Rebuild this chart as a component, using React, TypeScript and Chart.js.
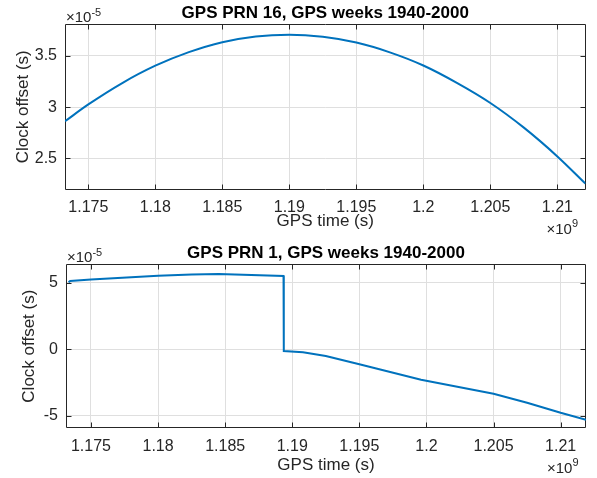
import React, { useEffect, useRef } from "react";
import { Chart, registerables } from "chart.js";

Chart.register(...registerables);

const FONT = '"Liberation Sans", Arial, Helvetica, sans-serif';
const TEXT = "#262626";

const topTitle = "GPS PRN 16, GPS weeks 1940-2000";
const bottomTitle = "GPS PRN 1, GPS weeks 1940-2000";
const xLabel = "GPS time (s)";
const yLabel = "Clock offset (s)";

const xTicks = [1175000000, 1180000000, 1185000000, 1190000000, 1195000000, 1200000000, 1205000000, 1210000000];
const topYTicks = [2.5e-5, 3e-5, 3.5e-5];
const bottomYTicks = [-5e-5, 0, 5e-5];

// PRN 16 (top)
const prn16Time = [
  1173260000, 1175000000, 1177500000, 1180000000, 1182500000, 1185000000, 1187500000,
  1190000000, 1192500000, 1195000000, 1197500000, 1200000000, 1202500000, 1205000000,
  1207500000, 1210000000, 1212100000,
];
const prn16Offset = [
  2.862e-5, 3.026e-5, 3.232e-5, 3.403e-5, 3.535e-5, 3.632e-5, 3.688e-5,
  3.705e-5, 3.684e-5, 3.628e-5, 3.533e-5, 3.405e-5, 3.236e-5, 3.04e-5,
  2.8e-5, 2.52e-5, 2.255e-5,
];

// PRN 1 (bottom)
const prn1Time = [
  1173330000, 1173450000, 1175000000, 1180000000, 1182500000, 1184500000, 1189350000,
  1189370000, 1190800000, 1192500000, 1195000000, 1199600000, 1205000000, 1207500000,
  1210000000, 1211890000,
];
const prn1Offset = [
  5.05e-5, 5.15e-5, 5.27e-5, 5.55e-5, 5.64e-5, 5.68e-5, 5.53e-5,
  -0.13e-5, -0.22e-5, -0.5e-5, -1.13e-5, -2.29e-5, -3.35e-5, -4.02e-5,
  -4.78e-5, -5.3e-5,
];

const matlabAxes = {
  id: "matlabAxes",
  beforeDatasetsDraw(chart: any) {
    const { ctx, chartArea, scales } = chart;
    const { left, top, right, bottom } = chartArea;
    const L = Math.round(left) + 0.5;
    const R = Math.round(right) - 0.5;
    const T = Math.round(top) + 0.5;
    const B = Math.round(bottom) - 0.5;
    ctx.save();
    ctx.strokeStyle = TEXT;
    ctx.lineWidth = 1;
    ctx.beginPath();
    for (const t of scales.x.ticks) {
      const px = Math.round(scales.x.getPixelForValue(t.value)) + 0.5;
      ctx.moveTo(px, B);
      ctx.lineTo(px, B - 5);
      ctx.moveTo(px, T);
      ctx.lineTo(px, T + 5);
    }
    for (const t of scales.y.ticks) {
      const py = Math.round(scales.y.getPixelForValue(t.value)) + 0.5;
      ctx.moveTo(L, py);
      ctx.lineTo(L + 5, py);
      ctx.moveTo(R, py);
      ctx.lineTo(R - 5, py);
    }
    ctx.rect(L, T, R - L, B - T);
    ctx.stroke();
    ctx.restore();
  },
  afterDraw(chart: any, _args: any, opts: any) {
    const { ctx, chartArea } = chart;
    const { left, right } = chartArea;
    ctx.save();
    ctx.fillStyle = "#000000";
    ctx.font = `bold 17px ${FONT}`;
    ctx.textAlign = "center";
    ctx.textBaseline = "alphabetic";
    ctx.fillText(opts.title, (left + right) / 2, 18);

    ctx.fillStyle = TEXT;
    // y exponent
    ctx.textAlign = "left";
    ctx.font = `15px ${FONT}`;
    const base = "\u00d710";
    ctx.fillText(base, left + 1, 21.5);
    const wb = ctx.measureText(base).width;
    ctx.font = `11px ${FONT}`;
    ctx.fillText(opts.yExp, left + 1 + wb, 15.5);

    // x exponent
    ctx.font = `11px ${FONT}`;
    const w9 = ctx.measureText(opts.xExp).width;
    const xr = right - 7.5;
    ctx.fillText(opts.xExp, xr - w9, opts.xExpBase - 7);
    ctx.font = `15px ${FONT}`;
    ctx.textAlign = "right";
    ctx.fillText(base, xr - w9, opts.xExpBase);
    ctx.restore();
  },
};

type Cfg = {
  title: string;
  times: number[];
  values: number[];
  yTicks: number[];
  xMin: number;
  xMax: number;
  yMin: number;
  yMax: number;
  areaLeft: number;
  areaRight: number;
  areaTop: number;
  areaBottom: number;
  height: number;
  yTitleOffset: number;
  xTitleOffset: number;
  xExpBase: number;
  smooth: boolean;
};

function makeChart(canvas: HTMLCanvasElement, c: Cfg) {
  const data = c.times.map((t, i) => ({ x: t, y: c.values[i] }));
  return new Chart(canvas, {
    type: "line",
    data: {
      datasets: [
        {
          data,
          borderColor: "#0072BD",
          borderWidth: 2,
          pointRadius: 0,
          fill: false,
          tension: 0,
          cubicInterpolationMode: c.smooth ? "monotone" : "default",
        } as any,
      ],
    },
    plugins: [matlabAxes as any],
    options: {
      animation: false,
      responsive: false,
      maintainAspectRatio: false,
      layout: {
        padding: { top: c.areaTop, right: 597 - c.areaRight, left: 0, bottom: 0 },
      },
      plugins: {
        legend: { display: false },
        tooltip: { enabled: false },
        matlabAxes: { title: c.title, yExp: "-5", xExp: "9", xExpBase: c.xExpBase },
      } as any,
      scales: {
        x: {
          type: "linear",
          min: c.xMin,
          max: c.xMax,
          afterBuildTicks: (s: any) => {
            s.ticks = xTicks.map((v) => ({ value: v }));
          },
          afterFit: (s: any) => {
            s.height = c.height - c.areaBottom;
          },
          grid: { color: "#dfdfdf", lineWidth: 1, drawTicks: false },
          border: { display: false },
          ticks: {
            color: TEXT,
            font: { family: FONT, size: 16 },
            padding: 8.5,
            maxRotation: 0,
            autoSkip: false,
            callback: (v: any) => String(Number(v) / 1e9),
          },
          title: {
            display: true,
            text: xLabel,
            color: TEXT,
            font: { family: FONT, size: 17 },
            padding: { top: 0, bottom: c.xTitleOffset },
          },
        },
        y: {
          type: "linear",
          min: c.yMin,
          max: c.yMax,
          afterBuildTicks: (s: any) => {
            s.ticks = c.yTicks.map((v) => ({ value: v }));
          },
          afterFit: (s: any) => {
            s.width = c.areaLeft;
          },
          grid: { color: "#dfdfdf", lineWidth: 1, drawTicks: false },
          border: { display: false },
          ticks: {
            color: TEXT,
            font: { family: FONT, size: 16 },
            padding: 8,
            autoSkip: false,
            callback: (v: any) => String(Math.round(Number(v) * 1e6) / 10),
          },
          title: {
            display: true,
            text: yLabel,
            color: TEXT,
            font: { family: FONT, size: 17 },
            padding: { top: c.yTitleOffset, bottom: 0 },
          },
        },
      },
    },
  });
}

export default function App() {
  const topRef = useRef<HTMLCanvasElement>(null);
  const botRef = useRef<HTMLCanvasElement>(null);

  useEffect(() => {
    const a = makeChart(topRef.current!, {
      title: topTitle,
      times: prn16Time,
      values: prn16Offset,
      yTicks: topYTicks,
      xMin: 1173260000,
      xMax: 1212100000,
      yMin: 2.198e-5,
      yMax: 3.809e-5,
      areaLeft: 65,
      areaRight: 585.5,
      areaTop: 24,
      areaBottom: 189.5,
      height: 240,
      yTitleOffset: 13,
      xTitleOffset: 8,
      xExpBase: 234,
      smooth: true,
    });
    const b = makeChart(botRef.current!, {
      title: bottomTitle,
      times: prn1Time,
      values: prn1Offset,
      yTicks: bottomYTicks,
      xMin: 1173140000,
      xMax: 1211890000,
      yMin: -5.95e-5,
      yMax: 6.43e-5,
      areaLeft: 66,
      areaRight: 586,
      areaTop: 24,
      areaBottom: 188.3,
      height: 238,
      yTitleOffset: 19,
      xTitleOffset: 2,
      xExpBase: 233,
      smooth: false,
    });
    return () => {
      a.destroy();
      b.destroy();
    };
  }, []);

  return (
    <div style={{ position: "fixed", left: 0, top: 0, width: 597, height: 478, background: "#ffffff" }}>
      <canvas ref={topRef} width={597} height={240} style={{ position: "absolute", left: 0, top: 0, width: 597, height: 240 }} />
      <canvas ref={botRef} width={597} height={238} style={{ position: "absolute", left: 0, top: 240, width: 597, height: 238 }} />
    </div>
  );
}
